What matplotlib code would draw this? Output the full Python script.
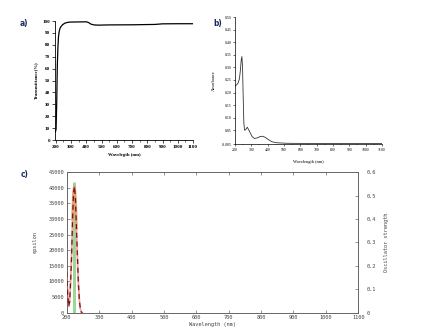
import numpy as np
import matplotlib
matplotlib.use("Agg")
import matplotlib.pyplot as plt
from matplotlib.ticker import MultipleLocator

# a) transmittance spectrum
wl_a = [198, 202, 206, 210, 214, 218, 222, 228, 235, 245, 260, 280, 300, 350,
        400, 415, 430, 450, 480, 550, 700, 850, 900, 1000, 1100]
trans_a = [7, 9, 30, 62, 78, 87, 91, 94, 95.5, 97, 98.3, 99, 99.2, 99.3,
           99.4, 98.8, 97.5, 96.8, 96.6, 96.8, 96.9, 97.2, 97.7, 97.8, 97.8]

# b) absorbance spectrum
wl_b = [200, 210, 220, 228, 234, 239, 243, 247, 251, 255, 259, 266, 276, 290,
        305, 320, 340, 355, 370, 385, 400, 427, 460, 520, 700, 900, 1100]
abs_b = [0.225, 0.230, 0.238, 0.255, 0.29, 0.33, 0.343, 0.30, 0.18, 0.08, 0.05,
         0.052, 0.062, 0.045, 0.025, 0.017, 0.020, 0.025, 0.026, 0.022, 0.015,
         0.004, 0.0, -0.002, -0.003, -0.003, -0.003]
yticks_b = [-0.005, 0.05, 0.10, 0.15, 0.20, 0.25, 0.30, 0.35, 0.40, 0.45, 0.50]
ylabels_b = ["-0.005", "0.05", "0.10", "0.15", "0.20", "0.25", "0.30", "0.35",
             "0.40", "0.45", "0.50"]

# c) calculated spectrum (epsilon) and oscillator strength
wl_c = [200, 203, 206, 209, 212, 215, 218, 221, 224, 227, 230, 233, 236, 239,
        242, 245, 248]
eps_c = [13000, 6000, 2000, 3500, 10000, 18000, 30000, 38500, 40500, 36000,
         27000, 18000, 9500, 4000, 1200, 200, 0]
stick_wl = [222]
stick_f = [0.56]
fticks_c = [0, 0.1, 0.2, 0.3, 0.4, 0.5, 0.6]
flabels_c = ["0", "0.1", "0.2", "0.3", "0.4", "0.5", "0.6"]

serif = "Liberation Serif"
mono = "DejaVu Sans Mono"
label_color = "#1b2a5e"

fig = plt.figure(figsize=(4.39, 3.35), dpi=100)

# ---- panel a ----
ax_a = fig.add_axes([0.1253, 0.582, 0.3144, 0.355])
ax_a.plot(wl_a, trans_a, color="black", lw=0.9)
ax_a.set_xlim(195, 1100)
ax_a.set_ylim(0, 100)
ax_a.xaxis.set_major_locator(MultipleLocator(100))
ax_a.xaxis.set_minor_locator(MultipleLocator(50))
ax_a.yaxis.set_major_locator(MultipleLocator(10))
for s in ("top", "right"):
    ax_a.spines[s].set_visible(False)
for s in ("left", "bottom"):
    ax_a.spines[s].set_linewidth(0.6)
ax_a.tick_params(which="major", length=2, width=0.5, labelsize=3.6, pad=1.5)
ax_a.tick_params(which="minor", length=1.2, width=0.4)
for t in ax_a.get_xticklabels() + ax_a.get_yticklabels():
    t.set_fontfamily(serif)
    t.set_fontweight("bold")
ax_a.set_xlabel("Wavelegth (nm)", fontsize=3.4, family=serif, weight="bold", labelpad=3)
ax_a.set_ylabel("Transmittance(%)", fontsize=3.4, family=serif, weight="bold", labelpad=3)

# ---- panel b ----
ax_b = fig.add_axes([0.535, 0.570, 0.335, 0.379])
ax_b.plot(wl_b, abs_b, color="#333333", lw=0.6)
ax_b.set_xlim(200, 1100)
ax_b.set_ylim(-0.005, 0.50)
ax_b.xaxis.set_major_locator(MultipleLocator(100))
ax_b.xaxis.set_minor_locator(MultipleLocator(50))
ax_b.set_yticks(yticks_b, ylabels_b)
for s in ("top", "right"):
    ax_b.spines[s].set_visible(False)
for s in ("left", "bottom"):
    ax_b.spines[s].set_linewidth(0.5)
ax_b.tick_params(which="major", length=1.5, width=0.4, labelsize=2.8, pad=1)
ax_b.tick_params(which="minor", length=0.8, width=0.3)
for t in ax_b.get_xticklabels() + ax_b.get_yticklabels():
    t.set_fontfamily(serif)
ax_b.set_xlabel("Wavelength (nm)", fontsize=3.2, family=serif, labelpad=6)
ax_b.set_ylabel("Absorbance", fontsize=3.2, family=serif, labelpad=4)

# ---- panel c ----
ax_c = fig.add_axes([0.152, 0.0666, 0.664, 0.4191])
eps = np.array(eps_c)
wl = np.array(wl_c)
ax_c.plot(wl, eps, color="#f2a3a3", lw=1.3, zorder=2)
peak = eps > 24000
ax_c.plot(wl[peak], eps[peak], color="#e0a070", lw=2.0, alpha=0.9, zorder=3)
ax_c.plot(wl, eps, color="#7a1010", lw=0.9, ls=(0, (4, 3)), zorder=4)
ax_c.set_xlim(200, 1100)
ax_c.set_ylim(0, 45000)
ax_c.xaxis.set_major_locator(MultipleLocator(100))
ax_c.yaxis.set_major_locator(MultipleLocator(5000))

ax_f = ax_c.twinx()
ax_f.vlines(stick_wl, 0, stick_f, color="#8fd48f", lw=2.2, alpha=0.9, zorder=1)
ax_f.set_ylim(0, 0.6)
ax_f.set_yticks(fticks_c, flabels_c)
ax_c.set_zorder(ax_f.get_zorder() + 1)
ax_c.patch.set_visible(False)

for a in (ax_c, ax_f):
    for s in a.spines.values():
        s.set_linewidth(0.6)
        s.set_color("#666666")
ax_c.tick_params(axis="both", direction="in", length=2, width=0.4, labelsize=3.8,
                 colors="#444444", pad=2, top=True)
ax_f.tick_params(axis="y", direction="in", length=2, width=0.4, labelsize=3.8,
                 colors="#444444", pad=6)
for t in ax_c.get_xticklabels() + ax_c.get_yticklabels() + ax_f.get_yticklabels():
    t.set_fontfamily(mono)
ax_c.set_xlabel("Wavelength (nm)", fontsize=3.8, family=mono, color="#444444", labelpad=1)
ax_c.set_ylabel("epsilon", fontsize=3.8, family=mono, color="#444444", labelpad=8)
ax_f.set_ylabel("Oscillator strength", fontsize=3.8, family=mono, color="#444444", labelpad=6)

# panel letters
for x, y, s in [(0.055, 0.93, "a)"), (0.497, 0.93, "b)"), (0.057, 0.478, "c)")]:
    fig.text(x, y, s, fontsize=6, weight="bold", color=label_color,
             family="DejaVu Sans", stretch="condensed", ha="center", va="center")

fig.savefig("out.png", dpi=100)
